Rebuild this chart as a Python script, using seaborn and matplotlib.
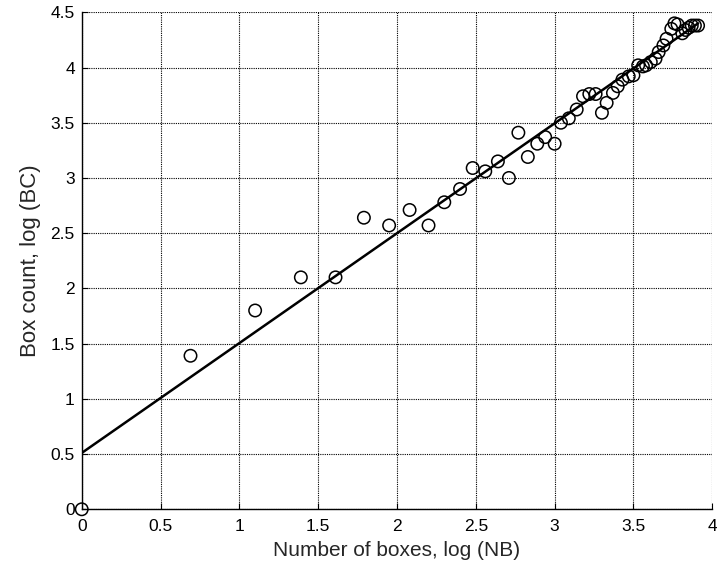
import numpy as np
import pandas as pd
import matplotlib
matplotlib.use("Agg")
import matplotlib.pyplot as plt
import seaborn as sns

# pontos: log(NB) x log(BC)
log_nb = [0.00, 0.69, 1.10, 1.39, 1.61, 1.79, 1.95, 2.08, 2.20, 2.30,
          2.40, 2.48, 2.56, 2.64, 2.71, 2.77, 2.83, 2.89, 2.94, 3.00,
          3.04, 3.09, 3.14, 3.18, 3.22, 3.26, 3.30, 3.33, 3.37, 3.40,
          3.43, 3.47, 3.50, 3.53, 3.56, 3.58, 3.61, 3.64, 3.66, 3.69,
          3.71, 3.74, 3.76, 3.78, 3.81, 3.83, 3.85, 3.87, 3.89, 3.91]
log_bc = [0.00, 1.39, 1.80, 2.10, 2.10, 2.64, 2.57, 2.71, 2.57, 2.78,
          2.90, 3.09, 3.06, 3.15, 3.00, 3.41, 3.19, 3.31, 3.37, 3.31,
          3.50, 3.54, 3.62, 3.74, 3.76, 3.76, 3.59, 3.68, 3.77, 3.83,
          3.89, 3.92, 3.93, 4.02, 4.01, 4.02, 4.05, 4.08, 4.14, 4.20,
          4.26, 4.35, 4.40, 4.39, 4.31, 4.34, 4.36, 4.38, 4.38, 4.38]

# reta ajustada
fit_x = [0.00, 3.91]
fit_y = [0.51, 4.40]

x_ticks = [0, 0.5, 1, 1.5, 2, 2.5, 3, 3.5, 4]
x_labels = ['0', '0.5', '1', '1.5', '2', '2.5', '3', '3.5', '4']
y_ticks = [0, 0.5, 1, 1.5, 2, 2.5, 3, 3.5, 4, 4.5]
y_labels = ['0', '0.5', '1', '1.5', '2', '2.5', '3', '3.5', '4', '4.5']

df = pd.DataFrame({'log_nb': log_nb, 'log_bc': log_bc})
df_fit = pd.DataFrame({'x': fit_x, 'y': fit_y})

sns.set_style("white")
plt.rcParams['font.family'] = ['Liberation Sans', 'DejaVu Sans']

fig = plt.figure(figsize=(7.17, 5.67), dpi=100)
ax = fig.add_axes([0.114, 0.1018, 0.8794, 0.8765])

sns.lineplot(data=df_fit, x='x', y='y', color='black', linewidth=1.8, ax=ax, zorder=3)
sns.scatterplot(data=df, x='log_nb', y='log_bc', marker='o', s=80,
                facecolor='none', edgecolor='black', linewidth=1.1,
                ax=ax, zorder=4, clip_on=False)

ax.set_xlim(0, 4)
ax.set_ylim(0, 4.5)
ax.set_xticks(x_ticks)
ax.set_xticklabels(x_labels)
ax.set_yticks(y_ticks)
ax.set_yticklabels(y_labels)
ax.tick_params(direction='in', length=4, width=0.8, colors='black',
               labelsize=12.5, top=False, right=False, bottom=True, left=True)
ax.tick_params(axis='x', pad=7)
ax.tick_params(axis='y', pad=5)

ax.grid(True, color='black', linestyle=(0, (1, 1)), linewidth=0.8)
ax.set_axisbelow(True)

for side in ['top', 'right']:
    ax.spines[side].set_visible(False)
for side in ['left', 'bottom']:
    ax.spines[side].set_color('black')
    ax.spines[side].set_linewidth(1.0)

ax.set_xlabel("Number of boxes, log (NB)", fontsize=15, labelpad=5)
ax.set_ylabel("Box count, log (BC)", fontsize=16, labelpad=7)

fig.savefig("out.png", dpi=100)
